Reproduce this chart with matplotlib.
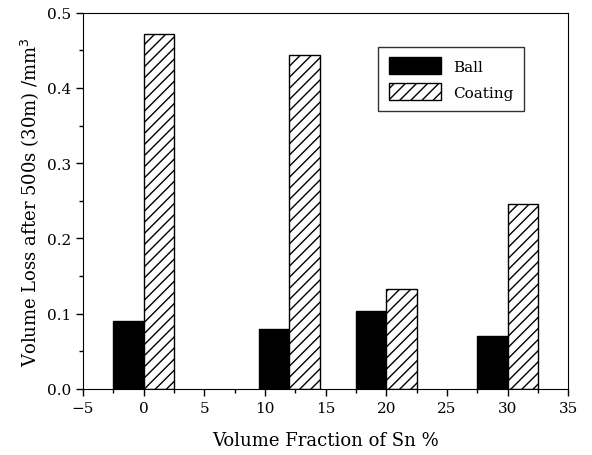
import numpy as np
import matplotlib.pyplot as plt

# Sn volume fraction (%) and measured volume loss (mm^3)
sn_fraction = [0, 12, 20, 30]
ball_loss = [0.090, 0.080, 0.104, 0.070]
coating_loss = [0.472, 0.444, 0.133, 0.246]

plt.rcParams['font.family'] = 'DejaVu Serif'
plt.rcParams['hatch.linewidth'] = 1.0

fig = plt.figure(figsize=(5.92, 4.56), dpi=100)
ax = fig.add_axes([0.14, 0.145, 0.82, 0.825])

w = 2.5
x = np.array(sn_fraction)
ax.bar(x, ball_loss, width=-w, align='edge', color='black',
       edgecolor='black', linewidth=1, label='Ball')
ax.bar(x, coating_loss, width=w, align='edge', color='white',
       edgecolor='black', linewidth=1, hatch='///', label='Coating')

ax.set_xlim(-5, 35)
ax.set_ylim(0, 0.5)
ax.set_xticks(np.arange(-5, 36, 5))
ax.set_xticks(np.arange(-5, 36, 2.5), minor=True)
ax.set_yticks(np.arange(0, 0.51, 0.1))
ax.set_yticks(np.arange(0, 0.51, 0.05), minor=True)
ax.yaxis.set_major_formatter(plt.FormatStrFormatter('%.1f'))
ax.tick_params(which='major', length=5, width=1, labelsize=11)
ax.tick_params(which='minor', length=3, width=1)

ax.set_xlabel('Volume Fraction of Sn %', fontsize=13, labelpad=12)
ax.set_ylabel('Volume Loss after 500s (30m) /mm$^3$', fontsize=13)

leg = ax.legend(loc='upper right', bbox_to_anchor=(0.925, 0.93),
                fancybox=False, edgecolor='black', fontsize=11,
                handlelength=3.4, handleheight=1.3, borderpad=0.7,
                labelspacing=0.6)
leg.get_frame().set_linewidth(1)

fig.savefig('out.png', dpi=100)
